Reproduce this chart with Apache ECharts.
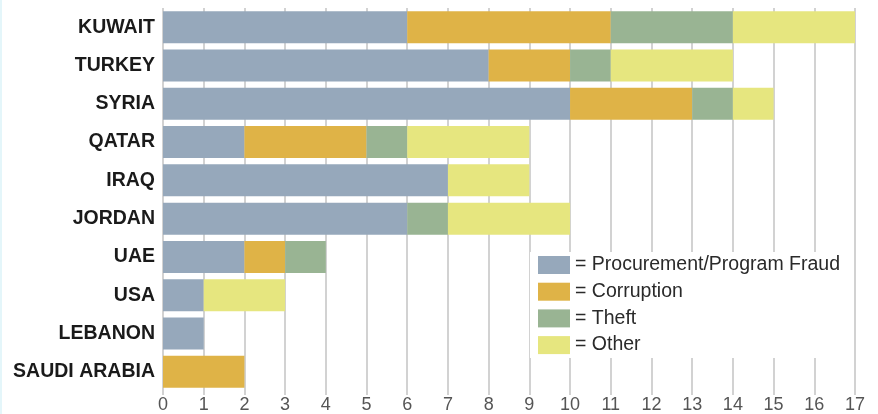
<!DOCTYPE html>
<html>
<head>
<meta charset="utf-8">
<script src="https://cdn.jsdelivr.net/npm/echarts@6/dist/echarts.min.js"></script>
<style>
html,body{margin:0;padding:0;background:#fff;}
#chart{width:878px;height:414px;}
</style>
</head>
<body>
<div id="chart"></div>
<script>
const countries = ["KUWAIT","TURKEY","SYRIA","QATAR","IRAQ","JORDAN","UAE","USA","LEBANON","SAUDI ARABIA"];
const procurement = [6, 8, 10, 2, 7, 6, 2, 1, 1, 0];
const corruption  = [5, 2, 3, 3, 0, 0, 1, 0, 0, 2];
const theft       = [3, 1, 1, 1, 0, 1, 1, 0, 0, 0];
const other       = [3, 3, 1, 3, 2, 3, 0, 2, 0, 0];
const seriesNames = ["Procurement/Program Fraud","Corruption","Theft","Other"];
const xTicks = [0,1,2,3,4,5,6,7,8,9,10,11,12,13,14,15,16,17];

const colors = ["#96a8bb", "#dfb347", "#99b493", "#e6e67f"];
const chart = echarts.init(document.getElementById('chart'), null, {renderer:'canvas'});
const seriesData = [procurement, corruption, theft, other];

chart.setOption({
  animation: false,
  backgroundColor: '#ffffff',
  graphic: [{type:'rect', left:0, top:0, shape:{width:2, height:414}, style:{fill:'#e4f6fa'}, silent:true}],
  grid: {left: 163, right: 23, top: 8, bottom: 22, containLabel: false},
  legend: {
    orient: 'vertical',
    left: 530, top: 252,
    padding: [3, 8, 3, 8],
    backgroundColor: '#ffffff',
    itemWidth: 32, itemHeight: 18, itemGap: 6.7,
    icon: 'rect',
    formatter: '= {name}',
    textStyle: {fontFamily: 'Liberation Sans', fontSize: 19.5, color: '#2a2a2a', lineHeight: 18},
    data: seriesNames
  },
  xAxis: {
    type: 'value',
    min: xTicks[0], max: xTicks[xTicks.length-1], interval: 1,
    axisLine: {show: false},
    axisTick: {show: true, length: 4, lineStyle: {color: '#d2d2d2', width: 2}},
    splitLine: {show: true, lineStyle: {color: '#d2d2d2', width: 2}},
    axisLabel: {fontFamily: 'Liberation Sans', fontSize: 18, color: '#555', margin: 5}
  },
  yAxis: {
    type: 'category',
    inverse: true,
    data: countries,
    axisLine: {show: false},
    axisTick: {show: false},
    axisLabel: {fontFamily: 'Liberation Sans', fontWeight: 'bold', fontSize: 19.5, color: '#1a1a1a', margin: 8}
  },
  series: seriesNames.map((n, i) => ({
    name: n,
    type: 'bar',
    stack: 'total',
    barWidth: 32,
    itemStyle: {color: colors[i]},
    data: seriesData[i]
  }))
});
</script>
</body>
</html>
